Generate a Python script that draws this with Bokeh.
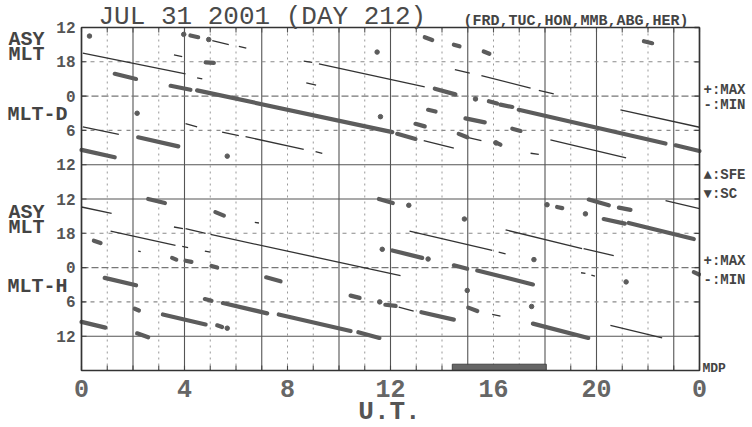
from bokeh.plotting import figure
from bokeh.models import Range1d
from bokeh.core.properties import value
from bokeh.embed import file_html
from bokeh.resources import INLINE

FONT = value("Liberation Mono")

# ---------------- axes / ticks ----------------
ut_major = [0, 4, 8, 12, 16, 20, 24]
ut_major_labels = ["0", "4", "8", "12", "16", "20", "0"]
ut_minor = list(range(25))
row_pos = [0, 6, 12, 18, 24, 30, 36, 42, 48, 54]
row_labels = ["12", "18", "0", "6", "12", "12", "18", "0", "6", "12"]
ut_solid = [2, 4, 7, 10, 12, 15, 18, 20, 23]
ut_dotted = [1, 3, 5, 6, 8, 9, 11, 13, 14, 16, 17, 19, 21, 22]
row_solid = [24, 30, 54]
row_dashed = [12, 42]
row_dotted = [6, 18, 36, 48]
panel_offset = {"D": 0, "H": 30}
row_max = 60

# ---------------- MLT-D panel ----------------
d_max_ut0 = [1.29, 3.46, 4.49, 12.26, 2.20, 0.00, 4.23, 13.33, 14.46, 15.62, 13.72, 15.82,
             16.27, 16.98, 23.07, 13.46, 12.97, 14.91, 14.65, 16.08, 16.73, 4.82, 21.84]
d_max_ut1 = [2.12, 4.23, 12.07, 12.97, 3.76, 1.29, 4.53, 13.62, 14.68, 15.84, 14.52, 16.14,
             16.73, 22.68, 24.00, 13.75, 13.33, 15.66, 14.98, 16.27, 17.05, 5.14, 22.16]
d_max_mlt0 = [20.1, 22.2, 23.0, 6.6, 7.2, 9.4, 13.4, 13.7, 15.0, 16.2, 22.7, 0.9,
              1.5, 2.4, 8.6, 2.4, 4.85, 3.9, 6.6, 8.1, 5.7, 18.1, 14.4]
d_max_mlt1 = [21.0, 22.9, 6.3, 7.5, 8.8, 10.7, 13.7, 14.2, 15.3, 16.6, 23.7, 1.3,
              1.9, 8.3, 9.6, 2.7, 5.3, 4.6, 7.2, 8.5, 6.1, 18.2, 14.75]

d_min_ut0 = [0.05, 4.49, 0.05, 4.04, 5.46, 6.37, 9.09, 5.08, 6.11, 3.59, 8.63, 9.22,
             8.73, 14.50, 15.53, 17.76, 14.98, 13.29, 17.44, 18.21, 20.93]
d_min_ut1 = [4.04, 4.69, 1.45, 4.49, 6.11, 8.63, 9.35, 5.72, 6.40, 3.91, 8.96, 13.33,
             9.11, 15.08, 17.44, 18.34, 15.53, 14.46, 17.76, 21.15, 24.00]
d_min_mlt0 = [16.5, 20.8, 5.4, 4.8, 6.3, 7.1, 9.7, 14.3, 15.3, 16.8, 17.9, 18.35,
              21.7, 19.35, 20.4, 23.0, 7.2, 7.8, 10.0, 7.65, 2.4]
d_min_mlt1 = [20.1, 21.0, 6.7, 5.4, 6.9, 9.3, 10.0, 15.0, 15.6, 17.1, 18.1, 22.4,
              22.1, 20.0, 22.6, 23.6, 7.8, 9.1, 10.2, 10.8, 5.45]

d_dot_ut = [0.31, 3.97, 4.94, 2.16, 5.66, 11.61, 15.30, 16.10, 11.48]
d_dot_mlt = [13.5, 13.2, 14.1, 3.0, 10.5, 3.6, 0.5, 8.2, 16.3]

# ---------------- MLT-H panel ----------------
h_max_ut0 = [2.59, 0.90, 7.17, 3.16, 5.49, 7.66, 10.75, 0.00, 2.16, 11.55, 12.07, 14.46,
             15.37, 10.45, 13.20, 15.02, 19.70, 20.28, 21.25, 17.53, 23.78, 5.20, 0.48,
             3.52, 4.04, 5.05, 2.07, 4.79, 5.27, 20.87, 11.80, 18.47]
h_max_ut1 = [3.24, 2.12, 7.73, 4.82, 7.21, 10.45, 11.57, 0.93, 2.59, 12.09, 13.23, 14.98,
             17.53, 10.80, 14.46, 15.37, 20.48, 21.10, 23.78, 19.68, 23.98, 5.53, 0.74,
             3.68, 4.27, 5.27, 2.23, 5.05, 5.46, 21.32, 12.20, 18.67]
h_max_mlt0 = [12.0, 1.8, 1.7, 8.2, 6.2, 8.2, 11.3, 9.5, 11.5, 12.0, 21.0, 23.6,
              0.5, 4.9, 7.8, 7.0, 12.1, 15.5, 16.2, 9.8, 0.8, 14.3, 19.3,
              22.3, 22.8, 23.7, 7.2, 5.5, 10.1, 13.5, 6.5, 13.4]
h_max_mlt1 = [12.7, 3.1, 2.4, 9.95, 8.0, 11.1, 12.3, 10.5, 12.2, 12.7, 22.3, 0.2,
              2.95, 5.3, 9.1, 7.6, 13.1, 16.3, 19.0, 12.3, 1.2, 14.9, 19.7,
              22.6, 23.0, 0.0, 7.5, 5.8, 10.4, 13.9, 6.7, 13.6]

h_min_ut0 = [0.00, 1.13, 3.59, 4.04, 5.01, 3.91, 4.79, 6.73, 2.20, 12.74, 16.20, 16.47,
             19.50, 12.32, 15.95, 20.54, 22.68, 19.40, 19.80]
h_min_ut1 = [1.17, 3.65, 3.94, 4.82, 12.39, 4.14, 5.01, 6.89, 2.30, 15.95, 16.47, 19.44,
             20.67, 12.90, 16.27, 22.55, 24.00, 19.57, 19.94]
h_min_mlt0 = [13.4, 17.6, 16.9, 17.2, 18.2, 20.3, 21.1, 16.1, 21.1, 17.6, 21.3, 17.4,
              20.7, 6.9, 8.2, 10.1, 12.3, 0.9, 1.3]
h_min_mlt1 = [14.5, 20.1, 17.2, 18.0, 1.4, 20.5, 21.3, 16.2, 21.2, 21.0, 21.6, 20.7,
              21.9, 7.6, 8.5, 12.3, 13.7, 1.0, 1.5]

h_dot_ut = [12.71, 14.87, 11.68, 13.46, 14.98, 17.57, 18.08, 19.57, 21.15, 17.48, 11.58, 5.66]
h_dot_mlt = [13.1, 15.5, 20.8, 22.5, 4.0, 22.6, 13.0, 14.6, 2.5, 6.8, 6.0, 10.6]

# MDP (missing data period) bar
mdp_ut0 = [14.4]
mdp_ut1 = [18.05]


def rows(mlt, offset):
    return [(m - 12.0) % 24.0 + offset for m in mlt]


def rows_end(mlt0, mlt1, offset):
    return [(a - 12.0) % 24.0 + offset + (b - a) % 24.0 for a, b in zip(mlt0, mlt1)]


# ---------------- canvas geometry ----------------
W, H = 752, 427
FL, FR, FT, FB = 81, 699, 27, 370   # plot frame in canvas px
PXH = (FR - FL) / (ut_major[-1] - ut_major[0])
PXU = (FB - FT) / row_max


def X(px):
    return (px - FL) / PXH


def Y(py):
    return (py - FT) / PXU


p = figure(width=W, height=H, output_backend="svg", toolbar_location=None,
           x_range=Range1d(X(0), X(W)), y_range=Range1d(Y(H), Y(0)),
           x_axis_type=None, y_axis_type=None, min_border=0)
p.background_fill_color = "white"
p.border_fill_color = "white"
p.outline_line_color = None
p.grid.visible = False

n_s, n_d = len(ut_solid), len(ut_dotted)
x_lo, x_hi = ut_major[0], ut_major[-1]

# vertical grid lines
p.segment(x0=ut_dotted, x1=ut_dotted, y0=[0] * n_d, y1=[row_max] * n_d,
          line_color="#999999", line_width=1, line_dash="2 4")
p.segment(x0=ut_solid, x1=ut_solid, y0=[0] * n_s, y1=[row_max] * n_s,
          line_color="#555555", line_width=1.1)
# horizontal grid lines
p.segment(x0=[x_lo] * 4, x1=[x_hi] * 4, y0=row_dotted, y1=row_dotted,
          line_color="#8a8a8a", line_width=1.1, line_dash="4 5")
p.segment(x0=[x_lo] * 2, x1=[x_hi] * 2, y0=row_dashed, y1=row_dashed,
          line_color="#777777", line_width=1.1, line_dash="7 3")
p.segment(x0=[x_lo] * 3, x1=[x_hi] * 3, y0=row_solid, y1=row_solid,
          line_color="#555555", line_width=1.1)

# tick marks (inward)
tk_x = 5 / PXH
tk_u = 5 / PXU
nm = len(ut_minor)
nr = len(row_pos)
p.segment(x0=ut_minor, x1=ut_minor, y0=[row_max] * nm, y1=[row_max - tk_u] * nm,
          line_color="#444444", line_width=1.1)
p.segment(x0=ut_minor, x1=ut_minor, y0=[0] * nm, y1=[tk_u] * nm,
          line_color="#555555", line_width=1.1)
p.segment(x0=[x_lo] * nr, x1=[x_lo + tk_x] * nr, y0=row_pos, y1=row_pos,
          line_color="#444444", line_width=1.1)
p.segment(x0=[x_hi] * nr, x1=[x_hi - tk_x] * nr, y0=row_pos, y1=row_pos,
          line_color="#444444", line_width=1.3)

# data
THICK = "#5c5c5c"
THIN = "#333333"
for key, mx0, mx1, mm0, mm1, mn0, mn1, nm0, nm1, dx, dm in [
        ("D", d_max_ut0, d_max_ut1, d_max_mlt0, d_max_mlt1,
         d_min_ut0, d_min_ut1, d_min_mlt0, d_min_mlt1, d_dot_ut, d_dot_mlt),
        ("H", h_max_ut0, h_max_ut1, h_max_mlt0, h_max_mlt1,
         h_min_ut0, h_min_ut1, h_min_mlt0, h_min_mlt1, h_dot_ut, h_dot_mlt)]:
    off = panel_offset[key]
    p.segment(x0=mn0, x1=mn1, y0=rows(nm0, off), y1=rows_end(nm0, nm1, off),
              line_color=THIN, line_width=1.3)
    p.segment(x0=mx0, x1=mx1, y0=rows(mm0, off), y1=rows_end(mm0, mm1, off),
              line_color=THICK, line_width=4.2, line_cap="round")
    p.scatter(x=dx, y=rows(dm, off), marker="circle", size=4.5,
              fill_color=THICK, line_color=THICK)

p.quad(left=mdp_ut0, right=mdp_ut1, top=[row_max - 1.1], bottom=[row_max],
       fill_color="#666666", line_color="#444444", line_width=1)

# frame
p.quad(left=[x_lo], right=[x_hi], top=[0], bottom=[row_max], fill_color=None,
       line_color="#333333", line_width=1.7)

# tick labels
p.text(x=ut_major, y=[Y(387.5)] * len(ut_major), text=ut_major_labels,
       text_font=FONT, text_font_size="25px", text_font_style="bold",
       text_color="#666666", text_align="center", text_baseline="middle")
p.text(x=[X(75)] * nr, y=row_pos, text=row_labels,
       text_font=FONT, text_font_size="16px", text_font_style="bold",
       text_color="#555555", text_align="right", text_baseline="middle")


def lab(text, px, py, size, bold=True, color="#444444", align="left"):
    p.text(x=[X(px)], y=[Y(py)], text=[text], text_font=FONT,
           text_font_size=size, text_font_style="bold" if bold else "normal",
           text_color=color, text_align=align, text_baseline="middle")


lab("JUL 31 2001 (DAY 212)", 98, 16.5, "26px", bold=False, color="#4a4a4a")
lab("(FRD,TUC,HON,MMB,ABG,HER)", 463, 20.5, "15px", color="#444444")
lab("ASY", 8, 39, "20px")
lab("MLT", 8, 53.5, "20px")
lab("MLT-D", 7, 113.5, "20px")
lab("ASY", 8, 211.5, "20px")
lab("MLT", 8, 227, "20px")
lab("MLT-H", 7, 286, "20px")
lab("+:MAX", 703, 89, "14px")
lab("-:MIN", 703, 104, "14px")
lab("\u25b2:SFE", 703, 174, "14px")
lab("\u25bc:SC", 703, 193, "14px")
lab("+:MAX", 703, 260, "14px")
lab("-:MIN", 703, 279, "14px")
lab("MDP", 702, 368, "13px")
lab("U.T.", 389, 411, "26px", color="#555555", align="center")

open("out.html", "w").write(file_html(p, INLINE))
